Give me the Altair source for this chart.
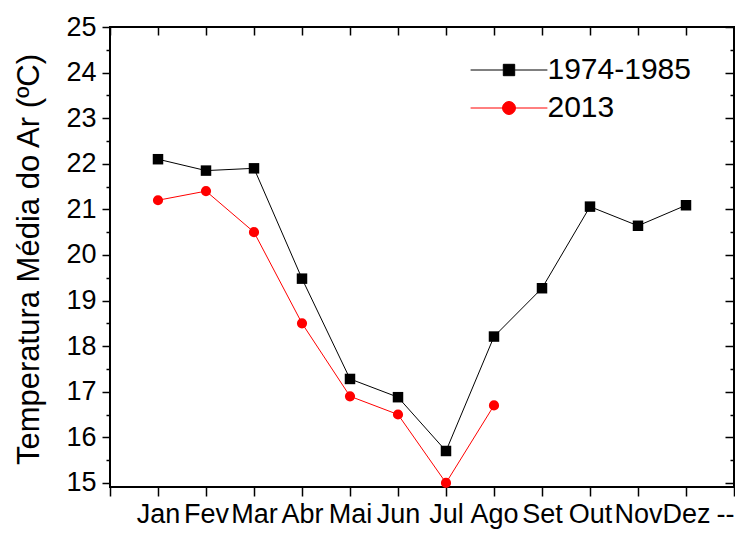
import altair as alt
import pandas as pd

months = ["Jan", "Fev", "Mar", "Abr", "Mai", "Jun", "Jul", "Ago", "Set", "Out", "Nov", "Dez"]
tick_labels = [""] + months + ["--"]
series_a = "1974-1985"
series_b = "2013"
temp_a = [22.1, 21.85, 21.9, 19.48, 17.28, 16.88, 15.7, 18.21, 19.27, 21.06, 20.64, 21.09]
temp_b = [21.2, 21.4, 20.5, 18.5, 16.9, 16.5, 15.0, 16.7]
y_major = [15, 16, 17, 18, 19, 20, 21, 22, 23, 24, 25]
y_minor = [15.5, 16.5, 17.5, 18.5, 19.5, 20.5, 21.5, 22.5, 23.5, 24.5]

rows = []
for i, v in enumerate(temp_a):
    rows.append({"pos": i + 1, "mes": months[i], "temp": v, "serie": series_a})
for i, v in enumerate(temp_b):
    rows.append({"pos": i + 1, "mes": months[i], "temp": v, "serie": series_b})
df = pd.DataFrame(rows)

FONT = "Liberation Sans"
last_pos = len(tick_labels) - 1
xs = alt.Scale(domain=[0, last_pos], nice=False, zero=False)
ys = alt.Scale(domain=[14.91, 25], nice=False, zero=False)
x_vals = list(range(len(tick_labels)))
label_expr = "[" + ",".join("'" + t + "'" for t in tick_labels) + "][datum.value]"

common = dict(domain=False, grid=False, tickColor="black", tickWidth=1.5, title=None)

x_bottom = alt.Axis(orient="bottom", values=x_vals, labelExpr=label_expr, labelFont=FONT,
                    labelFontSize=27, labelColor="black", tickSize=9, labelPadding=5,
                    labelAlign={"condition": {"test": f"datum.value == {last_pos}", "value": "right"},
                                "value": "center"},
                    labelOverlap=False, labelFlush=False, **common)
x_top = alt.Axis(orient="top", values=x_vals, labels=False, tickSize=alt.ExprRef(expr="-8"), **common)

y_left = alt.Axis(orient="left", values=y_major, labelFont=FONT, labelFontSize=27, labelColor="black",
                  tickSize=8, labelPadding=6, labelOverlap=False, labelFlush=False,
                  domain=False, grid=False, tickColor="black", tickWidth=1.5,
                  title="Temperatura Média do Ar (ºC)", titleFont=FONT, titleFontSize=31,
                  titleFontWeight="normal", titleColor="black", titleAngle=270,
                  titleX=-72, titleY=232, titleAlign="center", titleBaseline="alphabetic")
y_left_minor = alt.Axis(orient="left", values=y_minor, labels=False, tickSize=4, **common)
y_right = alt.Axis(orient="right", values=y_major, labels=False, tickSize=alt.ExprRef(expr="-9"), **common)
y_right_minor = alt.Axis(orient="right", values=y_minor, labels=False, tickSize=alt.ExprRef(expr="-4"), **common)

base = alt.Chart(df)

line_a = base.transform_filter(alt.datum.serie == series_a).mark_line(color="black", strokeWidth=1).encode(
    x=alt.X("pos:Q", scale=xs, axis=x_bottom),
    y=alt.Y("temp:Q", scale=ys, axis=y_left),
)
line_b = base.transform_filter(alt.datum.serie == series_b).mark_line(color="red", strokeWidth=1).encode(
    x=alt.X("pos:Q", scale=xs, axis=x_top),
    y=alt.Y("temp:Q", scale=ys, axis=y_left_minor),
)
pts_a = base.transform_filter(alt.datum.serie == series_a).mark_square(
    color="black", size=110, opacity=1).encode(
    x=alt.X("pos:Q", scale=xs, axis=None),
    y=alt.Y("temp:Q", scale=ys, axis=y_right),
)
pts_b = base.transform_filter(alt.datum.serie == series_b).mark_circle(
    color="red", size=104, opacity=1).encode(
    x=alt.X("pos:Q", scale=xs, axis=None),
    y=alt.Y("temp:Q", scale=ys, axis=y_right_minor),
)

sq_path = "M-6.4,0H-0.95M0.95,0H6.4M-0.95,-0.95H0.95V0.95H-0.95Z"
ci_path = "M-6.4,0H-1.08M1.08,0H6.4M-1.08,0A1.08,1.08,0,1,0,1.08,0A1.08,1.08,0,1,0,-1.08,0Z"
leg = alt.Legend(orient="none", legendX=384, legendY=28, title=None, direction="vertical",
                 labelFont=FONT, labelFontSize=30, labelColor="black", labelLimit=400,
                 symbolSize=144, symbolStrokeWidth=1, labelOffset=23.5, rowPadding=8, padding=0)
legend_layer = base.transform_filter("false").mark_point(filled=True, opacity=1, strokeWidth=1).encode(
    x=alt.X("pos:Q", scale=xs, axis=None),
    y=alt.Y("temp:Q", scale=ys, axis=None),
    fill=alt.Fill("serie:N", scale=alt.Scale(domain=[series_a, series_b], range=["black", "red"]), legend=leg),
    stroke=alt.Stroke("serie:N", scale=alt.Scale(domain=[series_a, series_b], range=["black", "red"]), legend=leg),
    shape=alt.Shape("serie:N", scale=alt.Scale(domain=[series_a, series_b], range=[sq_path, ci_path]), legend=leg),
)

chart = alt.layer(line_a, line_b, pts_a, pts_b, legend_layer).resolve_axis(
    x="independent", y="independent"
).properties(
    width=624, height=460,
    padding={"left": 102, "top": 19, "right": 1, "bottom": 42},
    autosize=alt.AutoSizeParams(type="none"),
    background="white",
).configure_view(stroke="black", strokeWidth=2)

chart.save("out.html", embed_options={"renderer": "svg", "actions": False})
